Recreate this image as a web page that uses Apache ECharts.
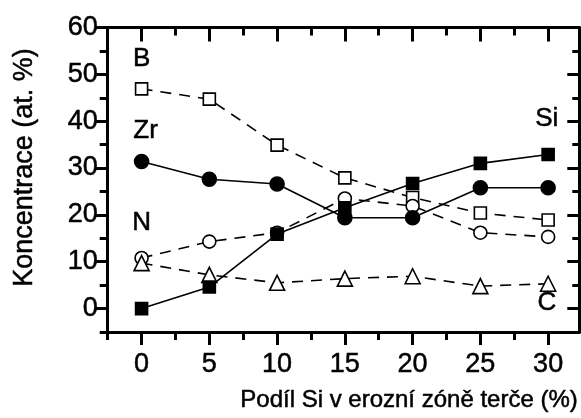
<!DOCTYPE html>
<html>
<head>
<meta charset="utf-8">
<script src="https://cdn.jsdelivr.net/npm/echarts@6/dist/echarts.min.js"></script>
<style>html,body{margin:0;padding:0;background:#fff}#c{width:581px;height:418px}</style>
</head>
<body>
<div id="c"></div>
<script>
// Data
const xValues = [0, 5, 10, 15, 20, 25, 30];
const siValues = [0, 4.6, 15.9, 21.5, 26.7, 31.0, 32.9];
const zrValues = [31.4, 27.6, 26.6, 19.4, 19.4, 25.8, 25.8];
const bValues = [46.9, 44.7, 34.9, 27.9, 23.7, 20.4, 18.9];
const nValues = [10.8, 14.3, 16.2, 23.5, 21.9, 16.2, 15.3];
const cValues = [9.7, 7.2, 5.5, 6.4, 6.9, 4.8, 5.3];
const xMajorTicks = [0, 5, 10, 15, 20, 25, 30];
const xMinorTicks = [-2.5, 2.5, 7.5, 12.5, 17.5, 22.5, 27.5];
const yMajorTicks = [0, 10, 20, 30, 40, 50, 60];
const yMinorTicks = [-5, 5, 15, 25, 35, 45, 55];
const seriesLabels = ['B', 'Zr', 'N', 'Si', 'C'];
const labelAnchors = [[0, 53.3], [0.3, 38.0], [0, 18.4], [29.9, 40.5], [29.9, 1.2]];
const xTitle = 'Podíl Si v erozní zóně terče (%)';
const yTitle = 'Koncentrace (at. %)';

const FONT = 'Liberation Sans, Arial, sans-serif';
const FS_TICK = 27;
const FS_XT = 24;
const FS_YT = 27;
const FS_LAB = 26;
const TB = 0.5;
const chart = echarts.init(document.getElementById('c'), null, {renderer: 'canvas'});

const pair = (ys) => xValues.map((x, i) => [x, ys[i]]);
const lineW = 3;

function xAx(pos, inside, vals, len, showLine, showLabel) {
  return {
    type: 'value', position: pos, min: -2.5, max: 32.3,
    axisLine: {show: showLine, onZero: false, lineStyle: {color: '#000', width: lineW}},
    axisTick: {show: true, inside: inside, customValues: vals, length: len, lineStyle: {color: '#000', width: 3}},
    axisLabel: showLabel ? {show: true, customValues: xMajorTicks, margin: 19, fontSize: FS_TICK, fontFamily: FONT, color: '#000', textBorderColor: '#000', textBorderWidth: TB} : {show: false},
    splitLine: {show: false}
  };
}
function yAx(pos, inside, vals, len, showLine, showLabel) {
  return {
    type: 'value', position: pos, min: -5, max: 60,
    axisLine: {show: showLine, onZero: false, lineStyle: {color: '#000', width: lineW}},
    axisTick: {show: true, inside: inside, customValues: vals, length: len, lineStyle: {color: '#000', width: 3}},
    axisLabel: showLabel ? {show: true, customValues: yMajorTicks, margin: 10, fontSize: FS_TICK, fontFamily: FONT, color: '#000', textBorderColor: '#000', textBorderWidth: TB} : {show: false},
    splitLine: {show: false}
  };
}

const dash = [11, 8];
function mk(name, data, symbol, size, filled, dashed) {
  return {
    name: name, type: 'line', xAxisIndex: 0, yAxisIndex: 0, data: pair(data),
    symbol: symbol, symbolSize: size, showAllSymbol: true,
    lineStyle: {color: '#000', width: 1.6, type: dashed ? dash : 'solid'},
    itemStyle: {color: filled ? '#000' : '#fff', borderColor: '#000', borderWidth: 1.6},
    emphasis: {disabled: true}, z: 3, animation: false
  };
}

chart.setOption({
  animation: false,
  grid: {left: 107.7, right: 1.7, top: 27.5, bottom: 86, containLabel: false},
  xAxis: [
    xAx('bottom', false, xMajorTicks, 13, true, true),
    xAx('bottom', false, xMinorTicks, 8, false, false),
    xAx('top', true, xMajorTicks, 14, true, false),
    xAx('top', true, xMinorTicks, 8, false, false)
  ],
  yAxis: [
    yAx('left', false, yMajorTicks, 12, true, true),
    yAx('left', false, yMinorTicks, 8, false, false),
    yAx('right', true, yMajorTicks, 12, true, false),
    yAx('right', true, yMinorTicks, 7, false, false)
  ],
  series: [
    mk('B', bValues, 'rect', 12, false, true),
    mk('N', nValues, 'circle', 13, false, true),
    mk('C', cValues, 'triangle', 15, false, true),
    mk('Si', siValues, 'rect', 12, true, false),
    mk('Zr', zrValues, 'circle', 14, true, false)
  ],
  graphic: [
    {type: 'text', right: 3, top: 388, style: {text: xTitle, font: FS_XT + 'px ' + FONT, fill: '#000', stroke: '#000', lineWidth: TB}},
    {type: 'text', x: 25, y: 167.5, rotation: Math.PI / 2, style: {text: yTitle, font: FS_YT + 'px ' + FONT, fill: '#000', stroke: '#000', lineWidth: TB, align: 'center', verticalAlign: 'middle'}}
  ]
});

// Series name annotations placed through the chart's own coordinate conversion
const annot = labelAnchors.map((p, i) => {
  const px = chart.convertToPixel({xAxisIndex: 0, yAxisIndex: 0}, p);
  return {type: 'text', x: px[0], y: px[1], z: 10,
    style: {text: seriesLabels[i], font: FS_LAB + 'px ' + FONT, fill: '#000', stroke: '#000', lineWidth: TB, align: 'center', verticalAlign: 'middle'}};
});
chart.setOption({graphic: annot.map((a, i) => Object.assign({id: 'lab' + i}, a))});
</script>
</body>
</html>
